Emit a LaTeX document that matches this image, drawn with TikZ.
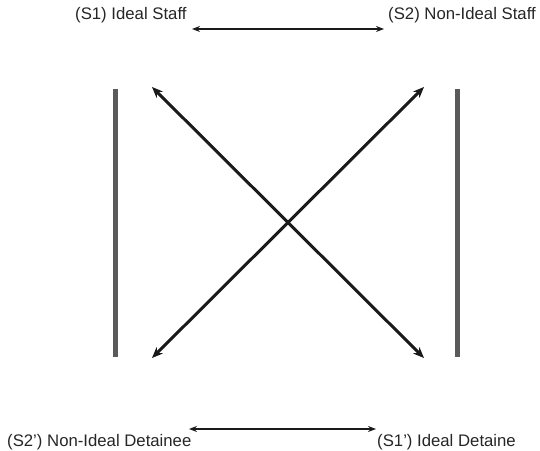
\documentclass[tikz,border=0pt]{standalone}
\usepackage{fontspec}
\setmainfont{Liberation Sans}
\usetikzlibrary{arrows.meta}
\definecolor{bargray}{HTML}{5A5A5A}
\definecolor{arrowblack}{HTML}{1A1A1A}
\begin{document}
\begin{tikzpicture}[x=1bp,y=-1bp,
  lbl/.style={inner sep=0pt,anchor=west,font=\fontsize{16.8}{19}\selectfont,text=black!85},
  harrow/.style={draw=arrowblack,line width=2bp,{Stealth[length=8bp,width=6bp]}-{Stealth[length=8bp,width=6bp]}},
  darrow/.style={draw=arrowblack,line width=3bp,{Stealth[length=11bp,width=9bp]}-{Stealth[length=11bp,width=9bp]}},
  bar/.style={draw=bargray,line width=5bp}]
\useasboundingbox (0,0) rectangle (540,451);
% labels
\node[lbl] (s1) at (75,15) {(S1) Ideal Staff};
\node[lbl] (s2) at (388,15) {(S2) Non-Ideal Staff};
\node[lbl] (s2p) at (7,442) {(S2') Non-Ideal Detainee};
\node[lbl] (s1p) at (377,442) {(S1') Ideal Detaine};
% arrow end coordinates
\coordinate (ta) at (192,29);
\coordinate (tb) at (384,29);
\coordinate (ba) at (189,429);
\coordinate (bb) at (376,429);
\coordinate (tl) at (152,87);
\coordinate (tr) at (424,87);
\coordinate (bl) at (152,358);
\coordinate (br) at (424,358);
\coordinate (lb1) at (115,89);
\coordinate (lb2) at (115,357);
\coordinate (rb1) at (457,89);
\coordinate (rb2) at (457,357);
% horizontal arrows
\draw[harrow] (ta) -- (tb);
\draw[harrow] (ba) -- (bb);
% bars
\draw[bar] (lb1) -- (lb2);
\draw[bar] (rb1) -- (rb2);
% diagonals
\draw[darrow] (tl) -- (br);
\draw[darrow] (bl) -- (tr);
\end{tikzpicture}
\end{document}
